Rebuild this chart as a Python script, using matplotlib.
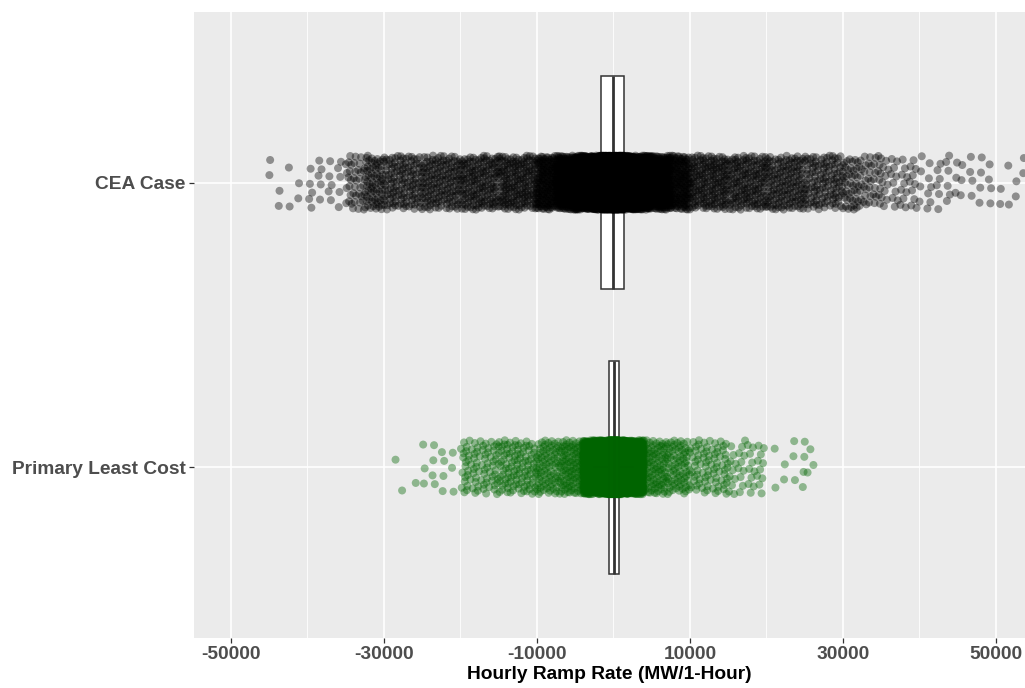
import numpy as np
import matplotlib.pyplot as plt

# categories (top to bottom)
cases = ['CEA Case', 'Primary Least Cost']
point_colors = ['black', 'darkgreen']

# binned distribution of hourly ramp rates (MW/1-hour)
cea_edges = [-45000, -40000, -35000, -32500, -30000, -25000, -20000, -15000, -10000, -7500,
             -5000, -3000, -1630, 0, 1370, 3000, 5000, 7500, 10000, 15000, 20000, 25000,
             30000, 32500, 35000, 40000, 45000, 50000, 54000]
cea_counts = [8, 20, 40, 70, 135, 150, 165, 185, 170, 270,
              460, 527, 2200, 2200, 535, 432,
              270, 170, 180, 165, 150, 125, 50, 35, 40, 25, 15, 8]

plc_edges = [-28500, -25000, -20000, -15000, -10000, -7000, -4000, -2000, -630, 50, 720,
             2000, 4000, 7000, 10000, 15000, 20000, 25000, 26500]
plc_counts = [3, 14, 80, 110, 85, 110, 480, 618, 1500, 1500, 650, 536,
              100, 80, 80, 40, 10, 4]

x_ticks = [-50000, -30000, -10000, 10000, 30000, 50000]
x_minor = [-40000, -20000, 0, 20000, 40000]

# low discrepancy sequence, used only to place points inside each bin / jitter band
A1, A2 = 0.7548776662466927, 0.5698402909980532


def spread(edges, counts):
    xs, ys = [], []
    n = 0
    for lo, hi, c in zip(edges[:-1], edges[1:], counts):
        for k in range(c):
            n += 1
            xs.append(lo + ((0.5 + n * A1) % 1) * (hi - lo))
            ys.append(((0.5 + n * A2) % 1) * 2 - 1)
    return np.array(xs), np.array(ys)


cea_x, cea_j = spread(cea_edges, cea_counts)
plc_x, plc_j = spread(plc_edges, plc_counts)
values = [cea_x, plc_x]
jitters = [cea_j, plc_j]
ypos = [2, 1]

fig = plt.figure(figsize=(10.25, 6.88), dpi=100)
ax = fig.add_axes([0.1893, 0.0727, 0.8107, 0.91])
ax.set_facecolor('#EBEBEB')
for s in ax.spines.values():
    s.set_visible(False)

for xm in x_minor:
    ax.axvline(xm, color='white', lw=0.6, zorder=0)
for xt in x_ticks:
    ax.axvline(xt, color='white', lw=1.2, zorder=0)
for y in ypos:
    ax.axhline(y, color='white', lw=1.2, zorder=0)

ax.boxplot(values, positions=ypos, orientation='horizontal', widths=0.75,
           patch_artist=True, showfliers=False, showcaps=False,
           boxprops=dict(facecolor='white', edgecolor='#333333', lw=1.1),
           medianprops=dict(color='#333333', lw=2.0),
           whiskerprops=dict(color='#333333', lw=1.1), zorder=2)

for v, j, y, c in zip(values, jitters, ypos, point_colors):
    ax.scatter(v, y + j * 0.095, s=33, color=c, alpha=0.4, edgecolors='none', zorder=3)

ax.set_xlim(-54800, 53800)
ax.set_ylim(0.4, 2.6)
ax.set_xticks(x_ticks)
ax.set_xticklabels([str(t) for t in x_ticks])
ax.set_xticks(x_minor, minor=True)
ax.tick_params(axis='x', which='minor', length=0)
ax.set_yticks(ypos)
ax.set_yticklabels(cases)
ax.tick_params(axis='both', which='major', length=3.5, width=0.9, color='#333333',
               labelcolor='#4D4D4D', labelsize=13.8, pad=2.5)
for lab in ax.get_xticklabels() + ax.get_yticklabels():
    lab.set_fontweight('bold')
    lab.set_fontfamily('Liberation Sans')

ax.set_xlabel('Hourly Ramp Rate (MW/1-Hour)', fontsize=13.8, fontweight='bold',
              family='Liberation Sans', color='black', labelpad=2)

fig.savefig('out.png', dpi=100)
